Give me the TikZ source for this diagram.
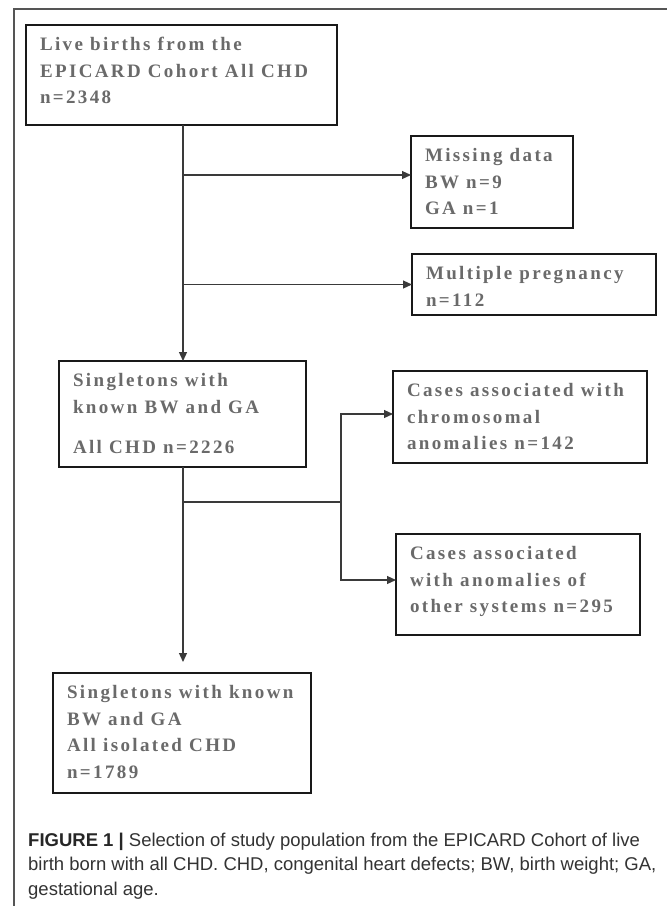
\documentclass[tikz,border=0pt]{standalone}
\usepackage{fontspec}
\setmainfont{Liberation Serif}
\newfontfamily\boxfont[LetterSpace=12.5]{Liberation Serif}
\newfontfamily\capfont{Liberation Sans}
\usetikzlibrary{arrows.meta}
\definecolor{txtgray}{HTML}{6A6A6A}
\definecolor{linegray}{HTML}{3A3A3A}
\definecolor{framegray}{HTML}{555555}
\definecolor{capgray}{HTML}{333333}
\newcommand{\bxt}[3]{\parbox[c][#2][t]{#1}{\raggedright\leftskip=14pt\relax\rule{0pt}{25.5pt}#3}}
\tikzset{
  flowbox/.style={draw=black!90, line width=1.8pt, inner sep=0pt, outer sep=0pt, anchor=north west,
    text=txtgray, font=\boxfont\bfseries\fontsize{19}{26.5}\selectfont},
  conn/.style={draw=linegray, line width=1.2pt},
  arr/.style={conn, -{Triangle[length=9pt,width=8pt]}},
  framel/.style={draw=framegray, line width=1.2pt},
  captxt/.style={inner sep=0pt, anchor=base west, text=capgray,
    font=\capfont\fontsize{18.5}{24.5}\selectfont}
}
\begin{document}
\begin{tikzpicture}[x=1pt,y=-1pt]
\useasboundingbox[fill=white] (0,0) rectangle (667,906);
% frame
\draw[framel] (14,906) -- (14,9) -- (667,9);
% boxes
\node[flowbox] (b1) at (26,25) {\bxt{311pt}{100pt}{Live births from the\\EPICARD Cohort All CHD\\n=2348}};
\node[flowbox] (miss) at (411,136) {\bxt{162pt}{92pt}{Missing data\\BW n=9\\GA n=1}};
\node[flowbox] (mult) at (412,254) {\bxt{244pt}{61pt}{Multiple pregnancy\\n=112}};
\node[flowbox] (b2) at (59,361) {\bxt{247pt}{106pt}{Singletons with\\known BW and GA\\[14pt]All CHD n=2226}};
\node[flowbox] (chrom) at (393,371) {\bxt{254pt}{92pt}{Cases associated with\\chromosomal\\anomalies n=142}};
\node[flowbox] (other) at (396,534) {\bxt{244pt}{101pt}{Cases associated\\with anomalies of\\other systems n=295}};
\node[flowbox] (b3) at (53,673) {\bxt{258pt}{120pt}{Singletons with known\\BW and GA\\All isolated CHD\\n=1789}};
% connectors
\coordinate (j1) at (183,175);
\coordinate (j2) at (183,502);
\coordinate (j3) at (341,502);
\draw[arr] (b1.south -| j1) -- (b2.north -| j1);
\draw[arr] (j1) -- (miss.west |- j1);
\draw[arr] (mult.west -| j1) -- (mult.west);
\draw[arr, shorten >=11pt] (b2.south -| j2) -- (b3.north -| j2);
\draw[conn] (j2) -- (j3);
\draw[arr] (j3) |- ([yshift=3pt]chrom.west);
\draw[arr] (j3) |- ([yshift=4.5pt]other.west);
% caption
\node[captxt] (cap) at (28,846) {\parbox[t]{636pt}{\raggedright\textbf{\color{black!85}FIGURE 1 |} Selection of study population from the EPICARD Cohort of live\\birth born with all CHD. CHD, congenital heart defects; BW, birth weight; GA,\\gestational age.}};
\end{tikzpicture}
\end{document}
